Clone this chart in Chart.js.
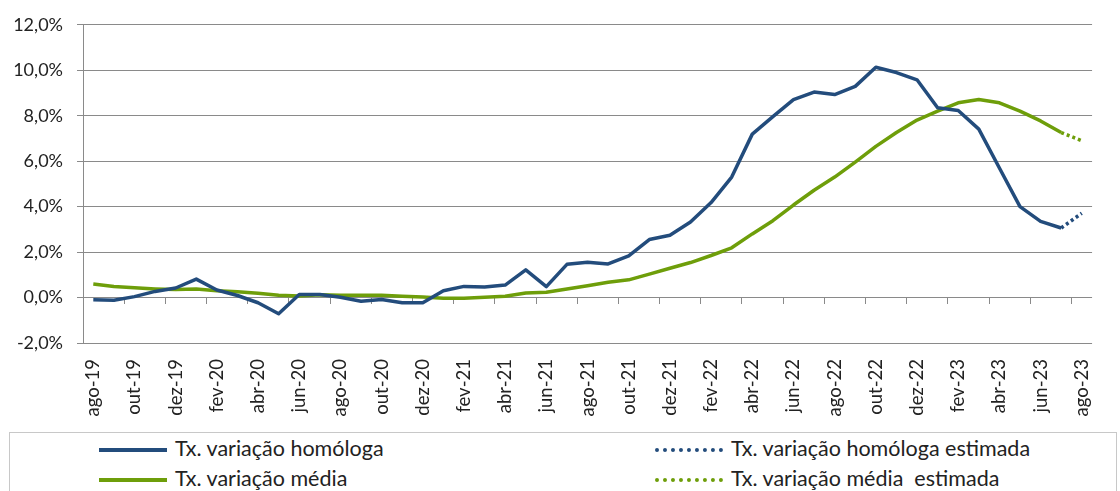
<!DOCTYPE html>
<html>
<head>
<meta charset="utf-8">
<script src="https://cdn.jsdelivr.net/npm/chart.js@4.4.0/dist/chart.umd.min.js"></script>
<style>
    body { margin: 0; background: #fff; font-family: Lato, "Open Sans", sans-serif; }
    #wrap { position: relative; width: 1120px; height: 491px; overflow: hidden; }
    #legend { position: absolute; left: 9px; top: 432px; width: 1106px; height: 80px; border: 1px solid #c8c8c8; }
    .item { position: absolute; font-size: 21.5px; color: #222; line-height: 24px; white-space: pre; }
    .sample { display: inline-block; width: 68px; height: 0; vertical-align: middle; margin-right: 8px; margin-top: -2px; }
</style>
</head>
<body>
<div id="wrap">
    <canvas id="chart" width="1120" height="432"></canvas>
    <div id="legend">
        <div class="item" style="left:89px; top:3px;"><span class="sample" style="border-top:4px solid #234C7C"></span>Tx. variação homóloga</div>
        <div class="item" style="left:645px; top:3px;"><span class="sample" style="border-top:4px dotted #234C7C"></span>Tx. variação homóloga estimada</div>
        <div class="item" style="left:89px; top:33px;"><span class="sample" style="border-top:4px solid #6E9E0A"></span>Tx. variação média</div>
        <div class="item" style="left:645px; top:33px;"><span class="sample" style="border-top:4px dotted #6E9E0A"></span>Tx. variação média  estimada</div>
    </div>
</div>
<script>
// meses ago-19 .. ago-23
const months = [
    'ago-19','set-19','out-19','nov-19','dez-19','jan-20','fev-20','mar-20','abr-20','mai-20','jun-20','jul-20',
    'ago-20','set-20','out-20','nov-20','dez-20','jan-21','fev-21','mar-21','abr-21','mai-21','jun-21','jul-21',
    'ago-21','set-21','out-21','nov-21','dez-21','jan-22','fev-22','mar-22','abr-22','mai-22','jun-22','jul-22',
    'ago-22','set-22','out-22','nov-22','dez-22','jan-23','fev-23','mar-23','abr-23','mai-23','jun-23','jul-23',
    'ago-23'
];

// taxa de variação homóloga (%), ago-19 .. jul-23
const homologa = [
    -0.1, -0.12, 0.04, 0.27, 0.42, 0.81, 0.33, 0.09, -0.23, -0.71, 0.13, 0.13,
    0.01, -0.16, -0.09, -0.23, -0.23, 0.3, 0.49, 0.46, 0.55, 1.22, 0.48, 1.46,
    1.55, 1.48, 1.83, 2.55, 2.74, 3.32, 4.18, 5.3, 7.19, 7.96, 8.71, 9.04,
    8.93, 9.29, 10.13, 9.9, 9.58, 8.35, 8.23, 7.41, 5.7, 4.0, 3.35, 3.06
];
// taxa de variação média (%), ago-19 .. jul-23
const media = [
    0.6, 0.49, 0.43, 0.38, 0.35, 0.38, 0.3, 0.25, 0.19, 0.1, 0.07, 0.12,
    0.1, 0.1, 0.1, 0.06, 0.02, -0.03, -0.03, 0.01, 0.06, 0.2, 0.23, 0.38,
    0.52, 0.67, 0.78, 1.03, 1.29, 1.54, 1.85, 2.19, 2.8, 3.38, 4.07, 4.72,
    5.3, 5.96, 6.65, 7.26, 7.81, 8.2, 8.57, 8.71, 8.57, 8.2, 7.77, 7.26
];
// estimativas jul-23 .. ago-23
const homologaEst = [3.06, 3.71];
const mediaEst = [7.26, 6.9];

const yTicks = [-2, 0, 2, 4, 6, 8, 10, 12];

const blue = '#234C7C';
const green = '#6E9E0A';
const gridGray = '#8a8a8a';

function padEstimate(est) {
    const out = months.map(() => null);
    est.forEach((v, i) => { out[months.length - est.length + i] = v; });
    return out;
}

const everyOther = (ctx) => (ctx.index % 2 === 0 ? gridGray : 'rgba(0,0,0,0)');

new Chart(document.getElementById('chart').getContext('2d'), {
    type: 'line',
    data: {
        labels: months,
        datasets: [
            { label: 'Tx. variação homóloga', data: homologa, borderColor: blue, borderWidth: 3.5 },
            { label: 'Tx. variação homóloga estimada', data: padEstimate(homologaEst), borderColor: blue, borderWidth: 3.5, borderDash: [3, 3] },
            { label: 'Tx. variação média', data: media, borderColor: green, borderWidth: 3.5 },
            { label: 'Tx. variação média  estimada', data: padEstimate(mediaEst), borderColor: green, borderWidth: 3.5, borderDash: [3, 3] }
        ]
    },
    options: {
        responsive: false,
        animation: false,
        devicePixelRatio: 1,
        layout: { padding: { top: 17, right: 3, left: 0, bottom: 0 } },
        elements: {
            point: { radius: 0 },
            line: { tension: 0, borderJoinStyle: 'round', borderCapStyle: 'butt' }
        },
        plugins: {
            legend: { display: false },
            tooltip: { enabled: false }
        },
        scales: {
            x: {
                type: 'category',
                offset: true,
                grid: { display: false, drawTicks: false },
                border: { display: false },
                ticks: {
                    autoSkip: false,
                    minRotation: 90,
                    maxRotation: 90,
                    padding: 16,
                    color: '#222',
                    font: { family: 'Lato', size: 18.5 },
                    callback: function (val, i) { return i % 2 === 0 ? months[i] : ''; }
                },
                afterFit: function (scale) { scale.height = 89; }
            },
            x2: {
                type: 'category',
                labels: months,
                position: { y: 0 },
                offset: true,
                grid: { offset: true, drawOnChartArea: false, drawTicks: true, tickLength: 6, color: everyOther, tickColor: everyOther },
                border: { display: false },
                ticks: { display: false, autoSkip: false }
            },
            y: {
                min: -2,
                max: 12,
                afterBuildTicks: function (scale) { scale.ticks = yTicks.map(v => ({ value: v })); },
                grid: { color: gridGray, tickLength: 6, drawTicks: true },
                border: { display: true, color: gridGray },
                ticks: {
                    padding: 14,
                    color: '#222',
                    font: { family: 'Lato', size: 18 },
                    callback: function (v) { return v.toFixed(1).replace('.', ',') + '%'; }
                },
                afterFit: function (scale) { scale.width = 83; }
            }
        }
    }
});
</script>
</body>
</html>
